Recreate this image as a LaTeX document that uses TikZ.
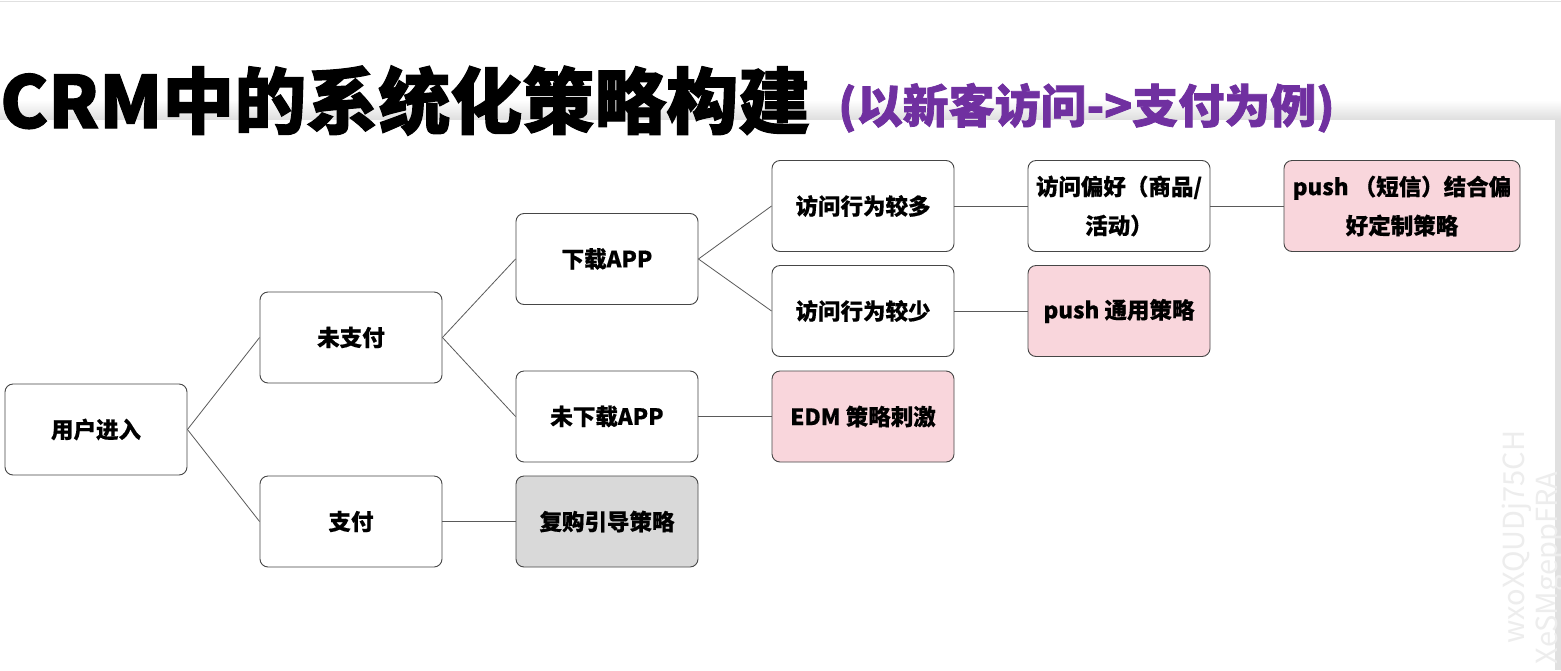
\documentclass[tikz,border=0pt]{standalone}
\usepackage{fontspec}
\setmainfont{Noto Sans CJK SC}
\newfontfamily\headfont[BoldFeatures={FakeBold=1.6}]{Noto Sans CJK SC}
\newfontfamily\boxfont[BoldFeatures={FakeBold=0.4}]{Noto Sans CJK SC}
\usepackage{tikz}
\usetikzlibrary{positioning,calc}
\definecolor{lineclr}{RGB}{90,90,90}
\definecolor{boxclr}{RGB}{70,70,70}
\definecolor{hotclr}{RGB}{249,214,220}
\definecolor{doneclr}{RGB}{217,217,217}
\definecolor{subclr}{RGB}{112,48,160}
\tikzset{
  blk/.style={rectangle,draw=boxclr,line width=0.9pt,fill=white,
              minimum width=182pt,minimum height=91pt,
              rounded corners=8pt,inner sep=2pt,align=center,
              font=\boxfont\fontsize{22.5}{39}\selectfont\bfseries},
  hot/.style={blk,fill=hotclr},
  done/.style={blk,fill=doneclr},
  link/.style={draw=lineclr,line width=0.8pt},
  wmark/.style={rotate=90,text=black!7,font=\fontsize{29}{29}\selectfont},
}

\begin{document}
\begin{tikzpicture}[x=1pt,y=-1pt]
\useasboundingbox (0,0) rectangle (1561,670);
% background, panel and its shadow
\fill[white] (0,0) rectangle (1561,670);
\draw[black!12,line width=1.5pt] (0,1.5) -- (1561,1.5);
\shade[top color=white,bottom color=black!13] (0,100) rectangle (1561,120);
\fill[black!12] (1555,120) rectangle (1561,670);
\fill[white] (0,120) rectangle (1555,670);

% title
\node[anchor=base west,inner sep=0pt,font=\headfont\fontsize{72}{74}\selectfont\bfseries]
  (title) at (0,128) {CRM中的系统化策略构建};
\node[anchor=base west,inner sep=0pt,text=subclr,
      font=\headfont\fontsize{46}{50}\selectfont\bfseries]
  (subtitle) at (838,123) {(以新客访问->支付为例)};

% the tree
\node[blk] (enter) at (96,429.5) {用户进入};
\node[blk] (unpaid) at (351,337.5) {未支付};
\node[blk] (paid) at (351,521.5) {支付};
\node[blk] (app) at (607,259) {下载APP};
\node[blk] (noapp) at (607,416.5) {未下载APP};
\node[done] (rebuy) at (607,521.5) {复购引导策略};
\node[blk] (many) at (863,206) {访问行为较多};
\node[blk] (few) at (863,311) {访问行为较少};
\node[hot] (edm) at (863,416.5) {EDM 策略刺激};
\node[blk] (pref) at (1119,206) {访问偏好（商品/\\活动）};
\node[hot] (pushall) at (1119,311) {push 通用策略};
\node[hot,minimum width=236pt] (pushpref) at (1402,206) {push （短信）结合偏\\好定制策略};

\draw[link] (enter.east) -- (unpaid.west);
\draw[link] (enter.east) -- (paid.west);
\draw[link] (unpaid.east) -- (app.west);
\draw[link] (unpaid.east) -- (noapp.west);
\draw[link] (paid.east) -- (rebuy.west);
\draw[link] (app.east) -- (many.west);
\draw[link] (app.east) -- (few.west);
\draw[link] (noapp.east) -- (edm.west);
\draw[link] (many.east) -- (pref.west);
\draw[link] (few.east) -- (pushall.west);
\draw[link] (pref.east) -- (pushpref.west);

% watermark
\node[wmark] (mark1) at (1517,537) {wxoXQUDj75CH};
\node[wmark] (mark2) at (1550,568) {XeSMgeppFRA};
\end{tikzpicture}
\end{document}
